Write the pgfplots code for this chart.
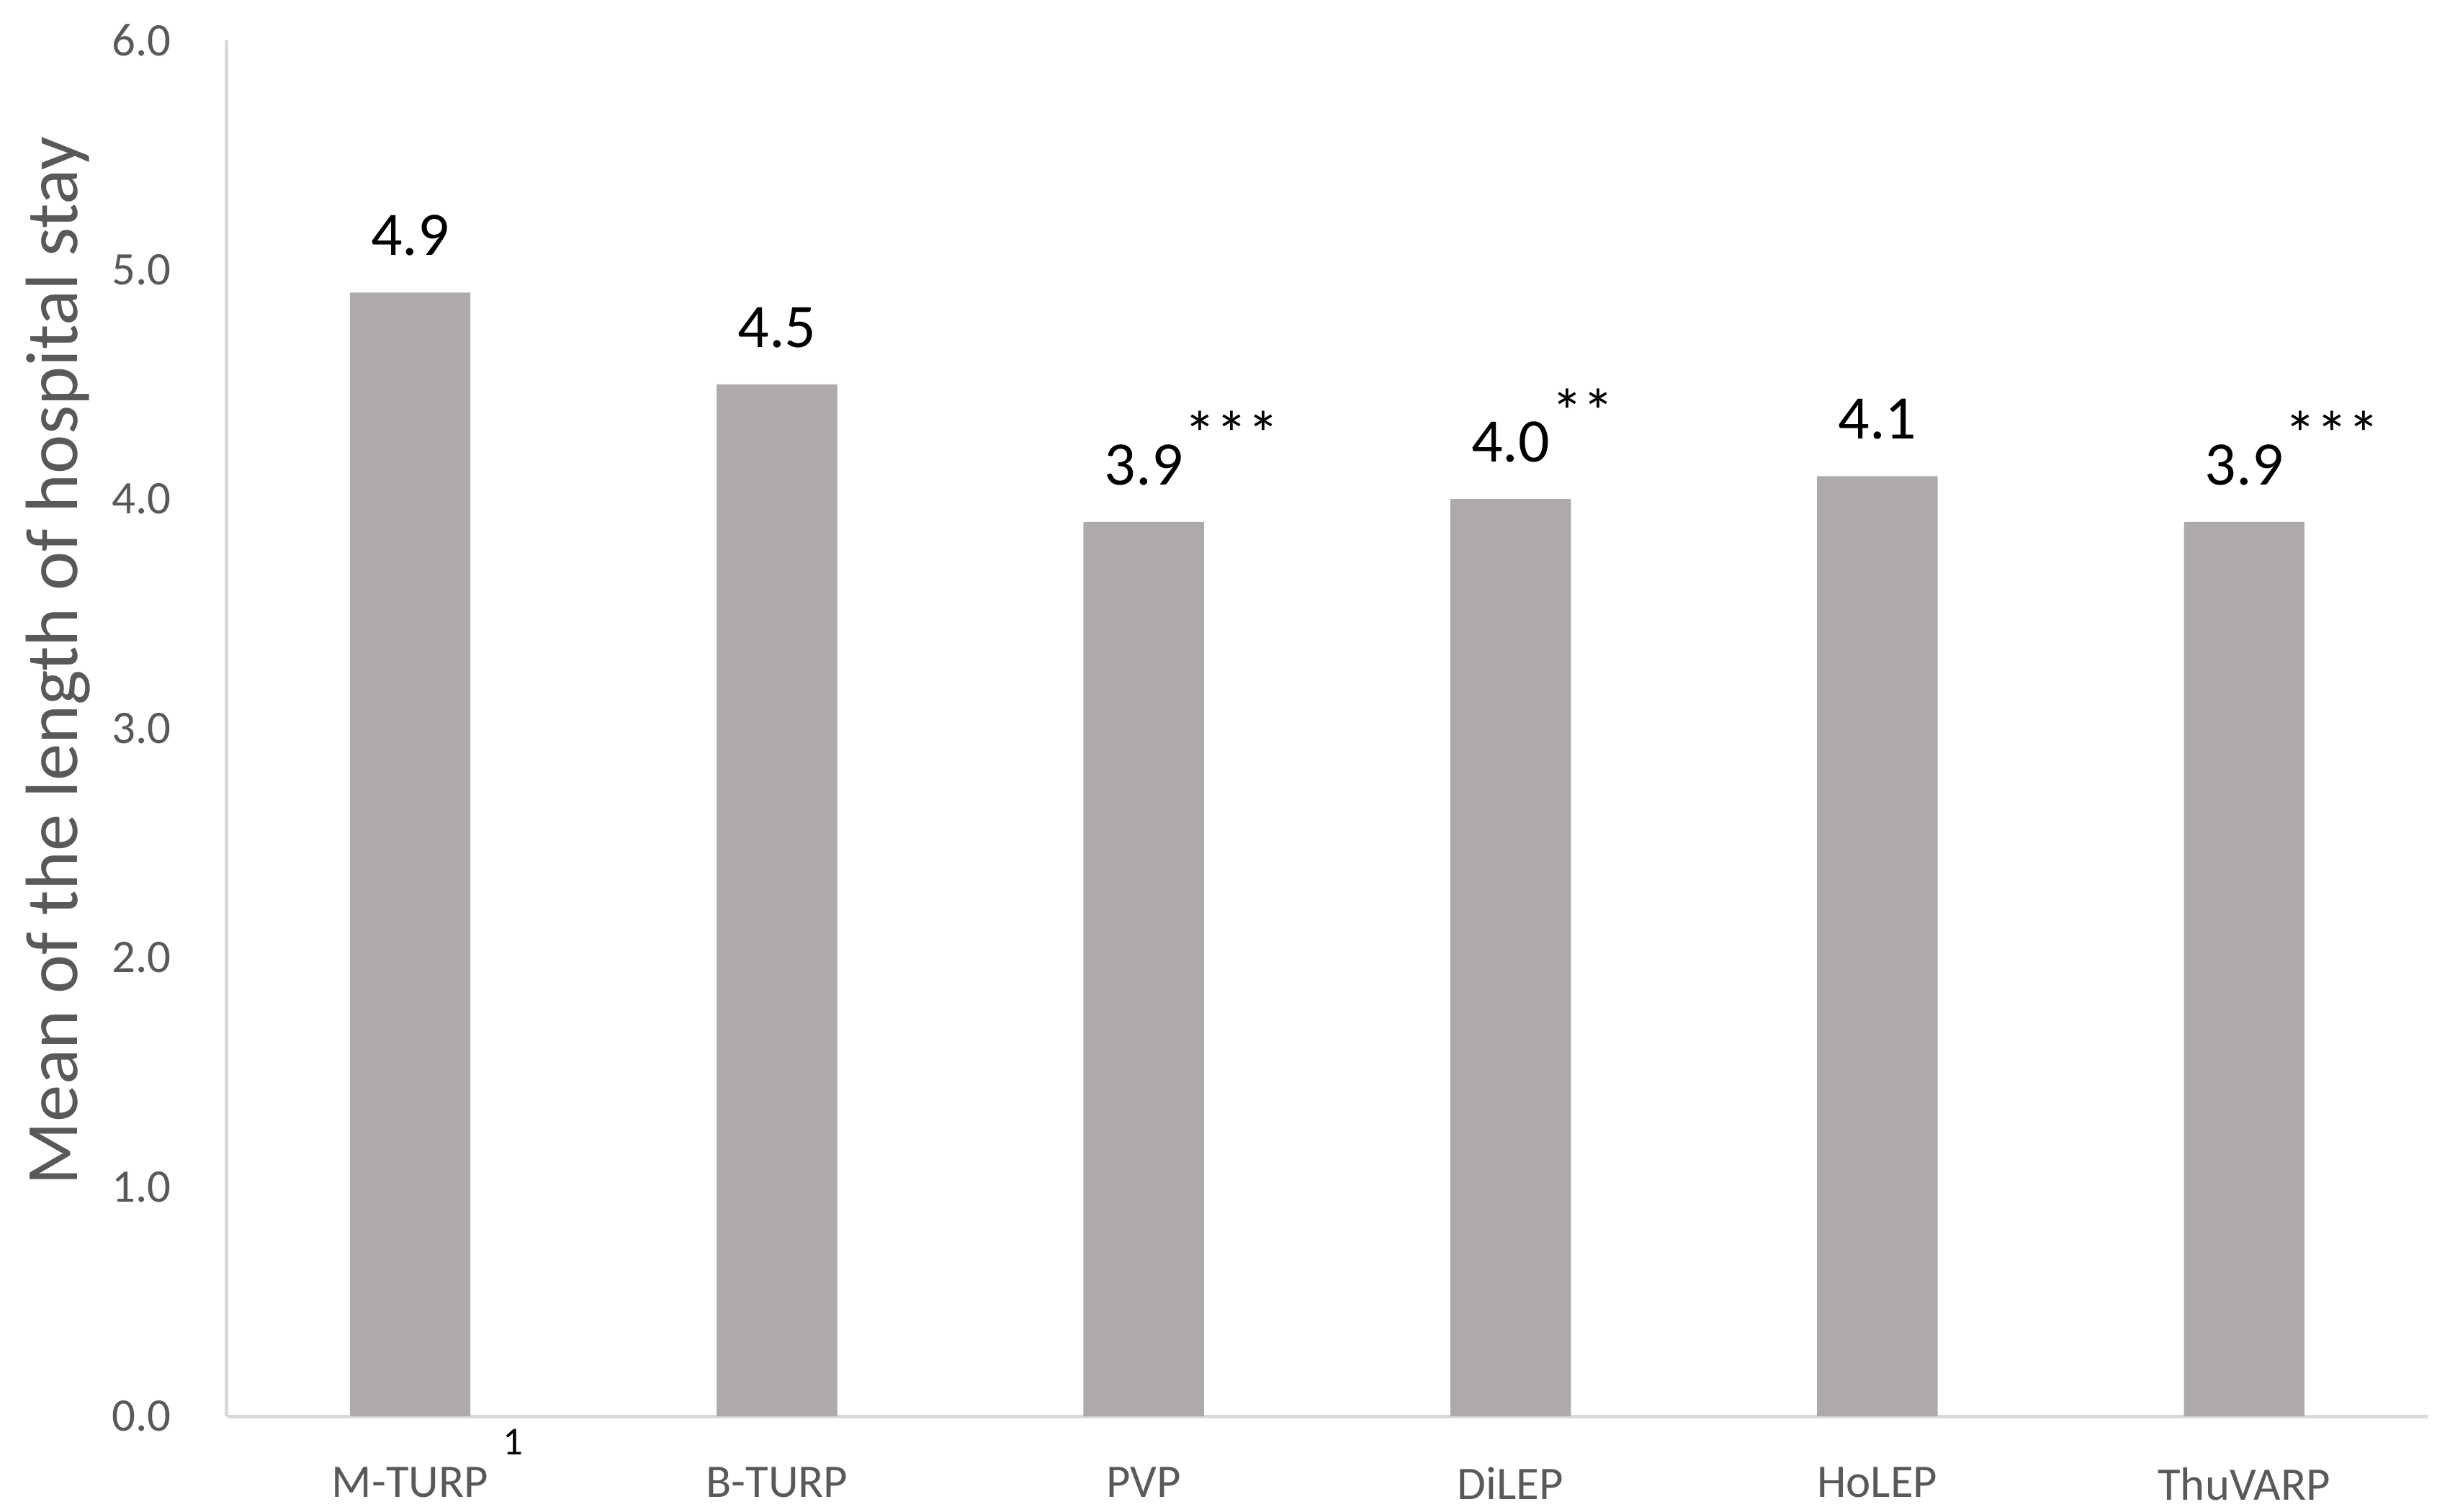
\documentclass[border=0pt]{standalone}
\usepackage{fontspec}
\setmainfont{Carlito}
\usepackage{pgfplots}
\pgfplotsset{compat=1.18}
\definecolor{barc}{HTML}{AEAAAA}
\definecolor{tickc}{HTML}{595959}
\definecolor{axc}{HTML}{D9D9D9}
\newcommand{\sig}[1]{\rlap{\hspace{0.3pt}\raisebox{5.6pt}{\fontsize{12.5}{12}\selectfont #1}}}
\begin{document}
\begin{tikzpicture}
\begin{axis}[
  scale only axis, width=15.24cm, height=9.53cm,
  xmin=-0.5, xmax=5.5, ymin=0, ymax=6,
  ytick={0,1,2,3,4,5,6},
  yticklabels={0.0,1.0,2.0,3.0,4.0,5.0,6.0},
  xtick={0,1,2,3,4,5},
  xticklabels={{M-TURP\rlap{\hspace{0.1cm}\raisebox{8.4pt}[0pt][0pt]{\color{black}\fontsize{7.8}{8}\selectfont 1}}},B-TURP,PVP,DiLEP,HoLEP,ThuVARP},
  axis x line*=bottom, axis y line*=left,
  axis line style={axc, line width=0.75pt},
  major tick length=0pt,
  tick label style={font=\fontsize{9.2}{11}\selectfont, color=tickc},
  yticklabel style={xshift=-0.26cm},
  xticklabel style={yshift=-0.23cm},
  ylabel={Mean of the length of hospital stay},
  ylabel style={font=\fontsize{14.6}{16}\selectfont, color=tickc, at={(axis description cs:-0.0768,0.549)}, anchor=center},
  ybar, bar width=0.835cm,
  nodes near coords, point meta=explicit symbolic,
  nodes near coords style={font=\fontsize{12.2}{14}\selectfont, color=black, anchor=south, yshift=0.13cm},
]
\addplot[fill=barc, draw=none] coordinates {
  (0,4.9) [4.9]
  (1,4.5) [4.5]
  (2,3.9) [{3.9\sig{***}}]
  (3,4.0) [{4.0\sig{**}}]
  (4,4.1) [4.1]
  (5,3.9) [{3.9\sig{***}}]
};
\end{axis}
\pgfresetboundingbox
\useasboundingbox ([xshift=-1.57cm,yshift=-0.66cm]current axis.south west) rectangle ([xshift=0.19cm,yshift=0.28cm]current axis.north east);
\end{tikzpicture}
\end{document}
